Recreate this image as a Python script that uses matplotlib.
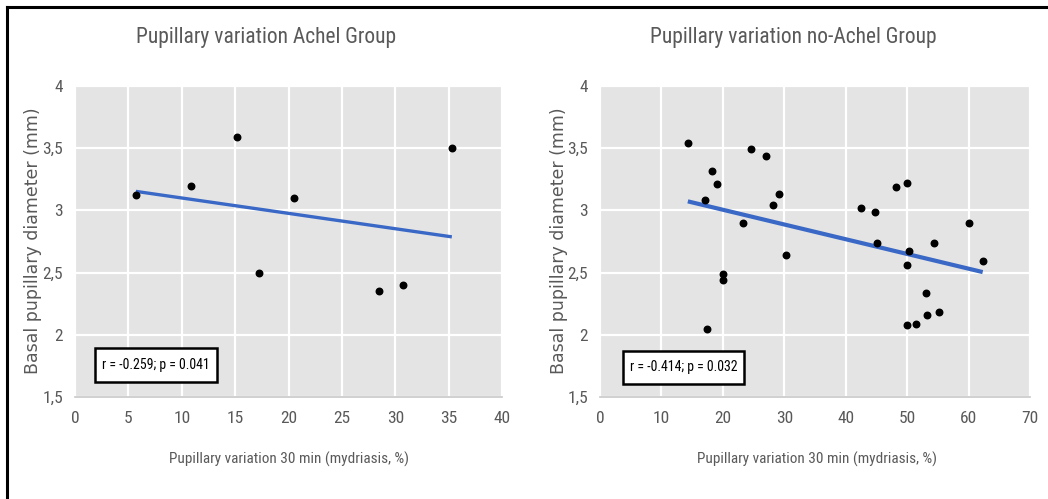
import os
import numpy as np
import matplotlib
matplotlib.use("Agg")
import matplotlib.pyplot as plt
from matplotlib import font_manager
from matplotlib.font_manager import FontProperties
from matplotlib.patches import Rectangle

# Achel group
achel_x = [5.7, 10.9, 15.2, 17.2, 20.5, 28.5, 30.75, 35.3]
achel_y = [3.12, 3.20, 3.59, 2.50, 3.10, 2.35, 2.40, 3.50]

# no-Achel group
noachel_x = [14.3, 17.1, 17.45, 18.3, 19.0, 20.1, 20.0, 23.2, 24.6, 27.0,
             28.2, 29.1, 30.2, 42.5, 44.75, 45.1, 48.2, 50.0, 50.3, 49.97,
             50.0, 51.4, 53.1, 53.2, 55.2, 54.4, 60.1, 62.3]
noachel_y = [3.54, 3.08, 2.05, 3.32, 3.21, 2.49, 2.44, 2.90, 3.49, 3.44,
             3.04, 3.13, 2.64, 3.02, 2.99, 2.74, 3.19, 3.22, 2.67, 2.56,
             2.075, 2.09, 2.335, 2.16, 2.18, 2.74, 2.90, 2.595]

titles = ["Pupillary variation Achel Group", "Pupillary variation no-Achel Group"]
stats = ["r = -0.259; p = 0.041", "r = -0.414; p = 0.032"]
xlabel = "Pupillary variation 30 min (mydriasis, %)"
ylabel = "Basal pupillary diameter (mm)"
y_ticks = [1.5, 2, 2.5, 3, 3.5, 4]
y_ticklabels = ["1,5", "2", "2,5", "3", "3,5", "4"]


def narrow_font():
    # prefer a condensed sans if one is on the system
    wanted = ["RobotoCondensed-Regular.ttf", "NotoSans-SemiCondensed.ttf",
              "NotoSans-Condensed.ttf", "NotoSans-CondensedRegular.ttf",
              "DejaVuSansCondensed.ttf", "LiberationSansNarrow-Regular.ttf"]
    files = {os.path.basename(f.fname): f.fname for f in font_manager.fontManager.ttflist}
    for name in wanted:
        if name in files:
            return files[name]
    return None


narrow_file = narrow_font()


def nf(size):
    if narrow_file:
        return FontProperties(fname=narrow_file, size=size)
    return FontProperties(family="Lato", size=size)


grey = "#595959"
W, H = 1048, 499
fig = plt.figure(figsize=(W / 100, H / 100), dpi=100)


def px(x0, y0, x1, y1):
    return [x0 / W, 1 - y1 / H, (x1 - x0) / W, (y1 - y0) / H]


panels = [
    dict(x=achel_x, y=achel_y, rect=px(75, 86, 502, 397), xmax=40, xstep=5,
         lw=2.4, box=(0.047, 0.048, 0.285, 0.110),
         title_x=266, xlabel_x=289, ylabel_x=33),
    dict(x=noachel_x, y=noachel_y, rect=px(600, 86, 1030, 397), xmax=70, xstep=10,
         lw=3.0, box=(0.054, 0.042, 0.280, 0.107),
         title_x=793, xlabel_x=817, ylabel_x=559),
]

for i, p in enumerate(panels):
    ax = fig.add_axes(p["rect"])
    ax.set_facecolor("#e4e4e4")
    ax.set_xlim(0, p["xmax"])
    ax.set_ylim(1.5, 4)
    ax.set_xticks(np.arange(0, p["xmax"] + 1, p["xstep"]))
    ax.set_yticks(y_ticks)
    ax.set_yticklabels(y_ticklabels)
    ax.grid(True, color="white", linewidth=1.6)
    ax.set_axisbelow(True)
    for side in ["top", "right", "left"]:
        ax.spines[side].set_visible(False)
    ax.spines["bottom"].set_color("#c8c8c8")
    ax.spines["bottom"].set_linewidth(1.2)
    ax.tick_params(axis="x", length=0, pad=10, labelcolor=grey)
    ax.tick_params(axis="y", length=0, pad=8.5, labelcolor=grey)
    for lab in ax.get_xticklabels() + ax.get_yticklabels():
        lab.set_fontproperties(nf(12.5))

    ax.scatter(p["x"], p["y"], s=22, color="black", zorder=3)
    slope, icpt = np.polyfit(p["x"], p["y"], 1)
    xs = np.array([min(p["x"]), max(p["x"])])
    ax.plot(xs, slope * xs + icpt, color="#3a68c6", linewidth=p["lw"],
            solid_capstyle="butt", zorder=2)

    # boxed correlation statistic
    bx, by, bw, bh = p["box"]
    ax.add_patch(Rectangle((bx, by), bw, bh, transform=ax.transAxes,
                           facecolor="white", edgecolor="black",
                           linewidth=1.8, zorder=4))
    ax.text(bx + bw / 2, by + bh / 2, stats[i], transform=ax.transAxes,
            fontproperties=nf(10), color="black", va="center", ha="center",
            zorder=5)

    fig.text(p["title_x"] / W, 1 - 38 / H, titles[i], fontproperties=nf(15.5),
             color=grey, ha="center", va="center")
    fig.text(p["xlabel_x"] / W, 1 - 459 / H, xlabel, fontproperties=nf(11),
             color=grey, ha="center", va="center")
    fig.text(p["ylabel_x"] / W, 1 - 241 / H, ylabel, family="DejaVu Sans",
             fontsize=12.5, color=grey, ha="center", va="center", rotation=90)

# frame lines along the top and left of the figure
fig.add_artist(plt.Line2D([7 / W, 1], [1 - 7 / H, 1 - 7 / H], color="black", linewidth=2.2))
fig.add_artist(plt.Line2D([7 / W, 7 / W], [0, 1 - 7 / H], color="black", linewidth=2.2))

fig.savefig("out.png", dpi=100)
